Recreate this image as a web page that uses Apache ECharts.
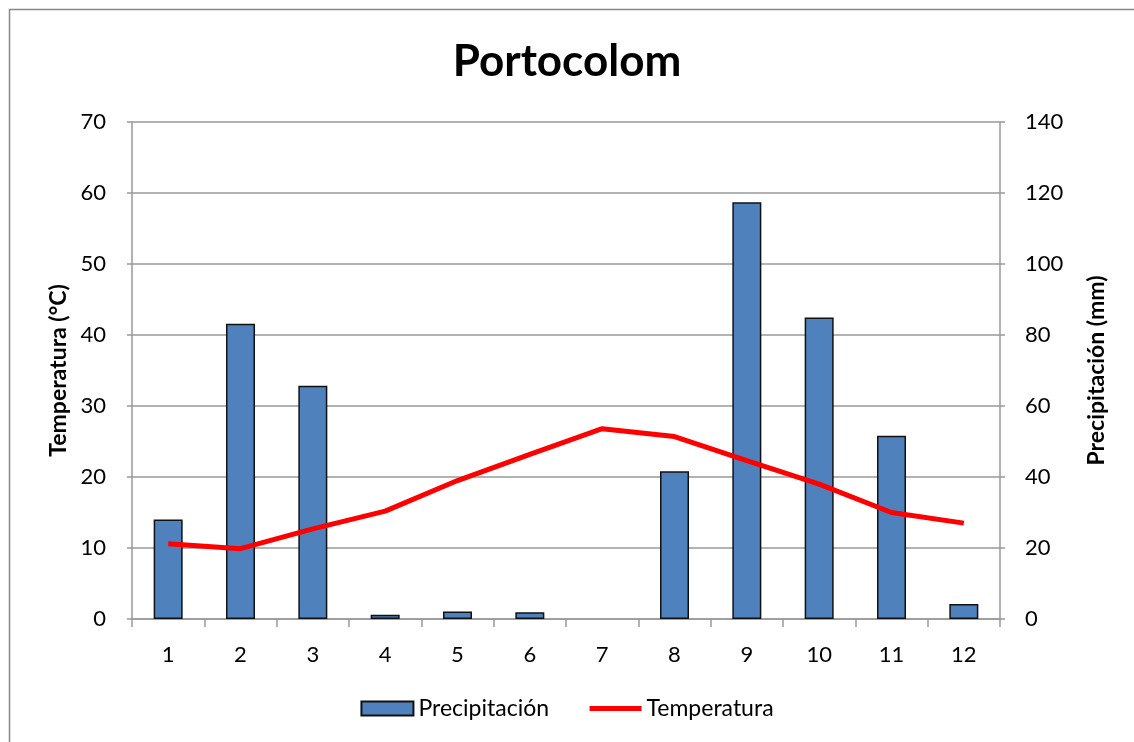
<!DOCTYPE html>
<html>
<head>
<meta charset="utf-8">
<script src="https://cdn.jsdelivr.net/npm/echarts@6/dist/echarts.min.js"></script>
<style>
  html, body { margin: 0; padding: 0; background: #fff; }
  #main { width: 1134px; height: 742px; }
</style>
</head>
<body>
<div id="main"></div>
<script>
// months
var months = ['1', '2', '3', '4', '5', '6', '7', '8', '9', '10', '11', '12'];
// precipitation (mm), right axis
var precipitacion = [28.0, 83.2, 65.7, 1.2, 2.1, 1.9, 0, 41.6, 117.4, 84.9, 51.6, 4.2];
// temperature (°C), left axis
var temperatura = [10.6, 9.9, 12.7, 15.2, 19.5, 23.2, 26.8, 25.7, 22.3, 19.0, 15.0, 13.5];

var font = 'Lato, "Open Sans", sans-serif';
var gridColor = '#999';

var chartDom = document.getElementById('main');
var myChart = echarts.init(chartDom);

// no border on empty months
var barData = precipitacion.map(function (v) {
  return v === 0 ? { value: v, itemStyle: { borderWidth: 0 } } : v;
});

var option = {
  animation: false,
  backgroundColor: '#fff',
  title: {
    text: 'Portocolom',
    left: 'center',
    top: 35,
    textStyle: { fontFamily: font, fontSize: 44, fontWeight: 'bold', color: '#000' }
  },
  legend: {
    bottom: 17,
    left: 'center',
    itemGap: 38,
    itemWidth: 52,
    itemHeight: 14,
    textStyle: { fontFamily: font, fontSize: 23, color: '#000' },
    data: [
      { name: 'Precipitación', icon: 'rect' },
      {
        name: 'Temperatura',
        itemStyle: { color: 'transparent', borderWidth: 0 },
        lineStyle: { color: '#ff0000', width: 5 }
      }
    ]
  },
  grid: { left: 132, right: 134, top: 122, bottom: 123 },
  xAxis: {
    type: 'category',
    data: months,
    axisLine: { lineStyle: { color: gridColor, width: 1.5 } },
    axisTick: { show: true, length: 8, alignWithLabel: false, lineStyle: { color: gridColor, width: 1.5 } },
    axisLabel: { fontFamily: font, fontSize: 22, color: '#000', margin: 25 }
  },
  yAxis: [
    {
      type: 'value',
      name: 'Temperatura (°C)',
      nameLocation: 'middle',
      nameGap: 62,
      nameTextStyle: { fontFamily: font, fontSize: 23, fontWeight: 'bold', color: '#000' },
      min: 0, max: 70, interval: 10,
      axisLine: { show: true, lineStyle: { color: gridColor, width: 1.5 } },
      axisTick: { show: true, length: 5, lineStyle: { color: gridColor, width: 1.5 } },
      axisLabel: { fontFamily: font, fontSize: 22, color: '#000', margin: 26 },
      splitLine: { lineStyle: { color: gridColor, width: 1.5 } }
    },
    {
      type: 'value',
      name: 'Precipitación (mm)',
      nameLocation: 'middle',
      nameGap: 85,
      nameRotate: 90,
      nameTextStyle: { fontFamily: font, fontSize: 23, fontWeight: 'bold', color: '#000' },
      min: 0, max: 140, interval: 20,
      axisLine: { show: true, lineStyle: { color: gridColor, width: 1.5 } },
      axisTick: { show: true, length: 5, lineStyle: { color: gridColor, width: 1.5 } },
      axisLabel: { fontFamily: font, fontSize: 22, color: '#000', margin: 25 },
      splitLine: { show: false }
    }
  ],
  series: [
    {
      name: 'Precipitación',
      type: 'bar',
      yAxisIndex: 1,
      barWidth: 29,
      data: barData,
      itemStyle: { color: '#4f81bd', borderColor: '#111', borderWidth: 1.5 }
    },
    {
      name: 'Temperatura',
      type: 'line',
      yAxisIndex: 0,
      data: temperatura,
      symbol: 'none',
      lineStyle: { color: '#ff0000', width: 5 },
      itemStyle: { color: '#ff0000' }
    }
  ],
  graphic: [
    {
      type: 'rect',
      shape: { x: 9.5, y: 9.5, width: 1200, height: 800 },
      style: { fill: 'none', stroke: '#888', lineWidth: 1.5 },
      silent: true
    }
  ]
};

option && myChart.setOption(option);
</script>
</body>
</html>
